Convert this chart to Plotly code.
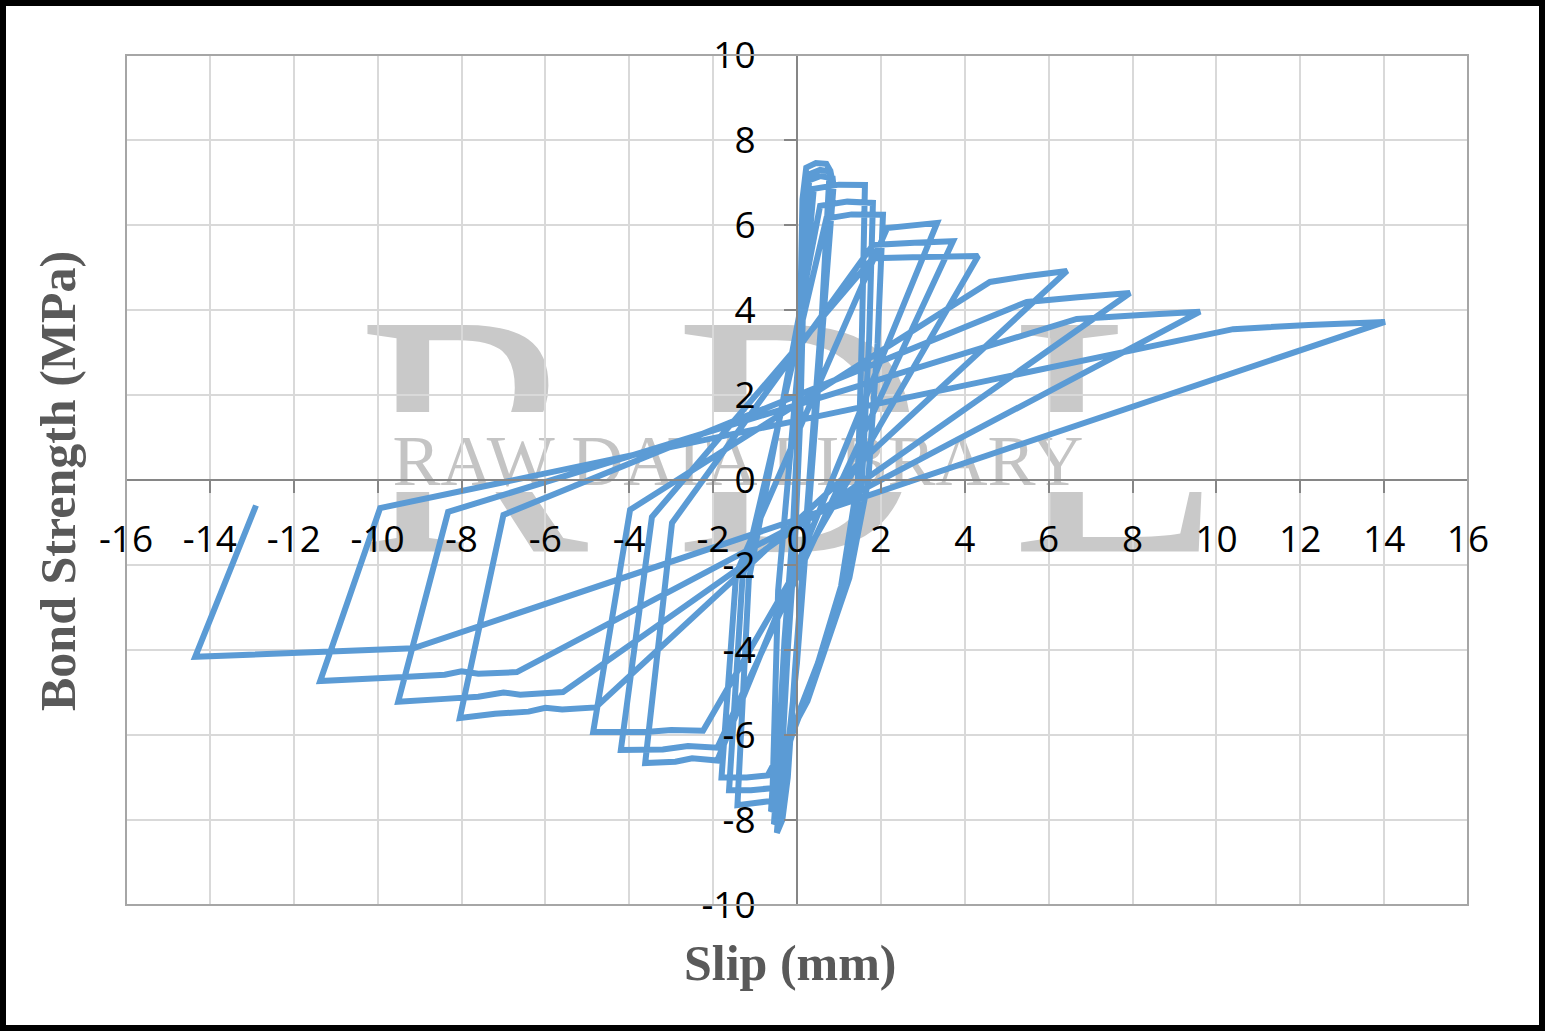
import plotly.graph_objects as go

# ---------------- data (slip in mm, bond strength in MPa) ----------------
# group 1: small cycles near the origin
slip_g1 = [0.00, 0.06, 0.13, 0.22, 0.45, 0.70, 0.78, 0.60, 0.38, 0.15, -0.05, -0.22, -0.35, -0.48,
           -0.42, -0.22, -0.05, 0.08, 0.18, 0.30, 0.55, 0.80, 0.83, 0.62, 0.42, 0.18, -0.02, -0.25,
           -0.42, -0.55, -0.50, -0.30, -0.10, 0.05, 0.15, 0.28, 0.55, 0.85, 0.87, 0.66, 0.45, 0.22,
           0.00, -0.28, -0.48, -0.62, -0.58, -0.45]
stress_g1 = [0.00, 3.50, 6.60, 7.35, 7.46, 7.44, 7.30, 4.00, 1.20, -1.80, -4.50, -7.00, -8.00, -8.30,
             -7.60, -4.00, -1.50, 1.50, 5.50, 7.20, 7.30, 7.25, 7.10, 4.20, 1.50, -1.50, -4.40, -7.00,
             -7.90, -8.10, -7.40, -3.80, -1.20, 1.80, 5.20, 7.05, 7.15, 7.10, 6.90, 4.20, 1.40, -1.60,
             -4.30, -6.90, -7.60, -7.80, -7.20, -2.60]

# group 2: cycles to about +/-1.8 mm
slip_g2 = [0.40, 1.00, 1.62, 1.55, 1.45, 1.05, 0.50, 0.07, -0.60, -1.00, -1.42, -1.15,
           0.55, 1.20, 1.81, 1.72, 1.55, 1.10, 0.55, 0.15, -0.60, -1.10, -1.62, -1.30,
           0.70, 1.30, 2.05, 1.92, 1.70, 1.25, 0.65, 0.25, -0.70, -1.20, -1.80, -1.45]
stress_g2 = [6.85, 6.95, 6.94, 3.50, 0.00, -2.50, -4.30, -5.40, -7.55, -7.60, -7.65, -2.35,
             6.45, 6.55, 6.52, 3.30, 0.00, -2.40, -4.20, -5.30, -7.25, -7.30, -7.30, -2.30,
             6.15, 6.25, 6.24, 3.20, 0.00, -2.30, -4.10, -5.20, -6.95, -7.00, -7.00, -2.20]

# group 3: cycles to about +/-4 mm
slip_g3 = [2.15, 2.80, 3.34, -1.90, -2.50, -2.90, -3.62, -2.98,
           1.81, 2.80, 3.72, -1.90, -2.60, -3.20, -4.20, -3.46,
           1.81, 3.00, 4.32, -2.24, -3.00, -3.60, -4.86, -3.98]
stress_g3 = [5.93, 6.00, 6.05, -6.60, -6.55, -6.63, -6.66, -1.01,
             5.53, 5.58, 5.62, -6.30, -6.26, -6.34, -6.35, -0.87,
             5.22, 5.25, 5.27, -5.90, -5.88, -5.93, -5.93, -0.70]

# group 4: cycles to about +/-10 mm
slip_g4 = [4.60, 5.50, 6.44, -4.80, -5.60, -6.00, -6.40, -7.20, -8.04, -7.00,
           5.48, 6.70, 7.94, -5.58, -6.60, -7.00, -7.60, -8.40, -9.51, -8.32,
           6.67, 8.20, 9.61, -6.68, -7.60, -8.00, -8.40, -9.50, -11.37, -9.94]
stress_g4 = [4.66, 4.80, 4.92, -5.35, -5.40, -5.36, -5.45, -5.50, -5.60, -0.82,
             4.19, 4.30, 4.40, -4.99, -5.05, -5.00, -5.10, -5.15, -5.22, -0.75,
             3.79, 3.88, 3.96, -4.52, -4.56, -4.50, -4.58, -4.64, -4.73, -0.66]

# group 5: last cycle
slip_g5 = [10.40, 12.20, 14.02, -9.15, -12.00, -14.35, -12.90]
stress_g5 = [3.55, 3.65, 3.72, -3.96, -4.08, -4.16, -0.60]

x_ticks = list(range(-16, 17, 2))
y_ticks = list(range(-10, 11, 2))

slip = slip_g1 + slip_g2 + slip_g3 + slip_g4 + slip_g5
stress = stress_g1 + stress_g2 + stress_g3 + stress_g4 + stress_g5

# ---------------- layout geometry ----------------
W, H = 1547, 1032
PL, PR, PT, PB = 126, 1468, 55, 905
XR = (-16, 16)
YR = (-10, 10)


def dx(px):
    return XR[0] + (px - PL) / (PR - PL) * (XR[1] - XR[0])


def dy(py):
    return YR[1] - (py - PT) / (PB - PT) * (YR[1] - YR[0])


def paper_x(px):
    return (px - PL) / (PR - PL)


def paper_y(py):
    return (PB - py) / (PB - PT)


fig = go.Figure()
fig.add_trace(go.Scatter(
    x=slip, y=stress, mode="lines",
    line=dict(color="#5b9bd5", width=6),
    hoverinfo="skip", showlegend=False,
))

axis_common = dict(
    tickmode="array",
    showgrid=True, gridcolor="#d9d9d9", gridwidth=1.5,
    zeroline=False,
    showline=True, linecolor="#868686", linewidth=2,
    ticks="outside", ticklen=12, tickwidth=2, tickcolor="#868686",
    tickfont=dict(family="Open Sans", size=37, color="black"),
    anchor="free", position=0.5, automargin=False,
)
fig.update_xaxes(range=list(XR), tickvals=x_ticks, ticktext=[str(v) for v in x_ticks],
                 ticklabelstandoff=15, **axis_common)
fig.update_yaxes(range=list(YR), tickvals=y_ticks, ticktext=[str(v) for v in y_ticks],
                 ticklabelstandoff=21, **axis_common)

shapes = [
    # watermark big letters
    dict(type="rect", xref="x", yref="y", x0=dx(330), x1=dx(1250), y0=dy(522), y1=dy(272),
         line=dict(width=0), fillcolor="rgba(0,0,0,0)", layer="below",
         label=dict(text="R D L", textposition="middle center",
                    font=dict(family="Liberation Serif", size=346, color="#c9c9c9"))),
    # white band cutting the letters
    dict(type="rect", xref="x", yref="y", x0=dx(345), x1=dx(1240), y0=dy(492), y1=dy(412),
         line=dict(width=0), fillcolor="white", layer="below"),
    # watermark text
    dict(type="rect", xref="x", yref="y", x0=dx(390), x1=dx(1086), y0=dy(483), y1=dy(423),
         line=dict(width=0), fillcolor="rgba(0,0,0,0)", layer="below",
         label=dict(text="RAW DATA LIBRARY", textposition="middle center",
                    font=dict(family="Liberation Serif", size=72, color="#c4c4c4"))),
    # plot area border
    dict(type="rect", xref="paper", yref="paper", x0=0, x1=1, y0=0, y1=1,
         line=dict(color="#a6a6a6", width=2), fillcolor="rgba(0,0,0,0)", layer="above"),
    # outer black frame
    dict(type="rect", xref="paper", yref="paper",
         x0=paper_x(3), x1=paper_x(W - 5), y0=paper_y(H - 4), y1=paper_y(3),
         line=dict(color="black", width=6), fillcolor="rgba(0,0,0,0)", layer="above"),
]

annotations = [
    dict(text="<b>Slip (mm)</b>", xref="paper", yref="paper",
         x=paper_x(790), y=paper_y(963), xanchor="center", yanchor="middle", showarrow=False,
         font=dict(family="Liberation Serif", size=50, color="#595959")),
    dict(text="<b>Bond Strength (MPa)</b>", xref="paper", yref="paper",
         x=paper_x(58), y=paper_y(481), xanchor="center", yanchor="middle", showarrow=False,
         textangle=-90,
         font=dict(family="Liberation Serif", size=50, color="#595959")),
]

fig.update_layout(
    template="none",
    width=W, height=H,
    margin=dict(l=PL, r=W - PR, t=PT, b=H - PB, pad=0),
    paper_bgcolor="white", plot_bgcolor="white",
    shapes=shapes, annotations=annotations,
    showlegend=False,
)

fig.write_html("out.html")
